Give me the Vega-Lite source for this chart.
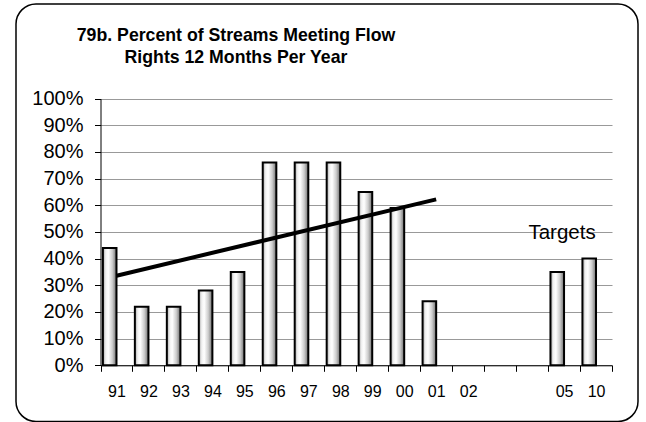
{
  "$schema": "https://vega.github.io/schema/vega-lite/v6.json",
  "width": 622,
  "height": 417.5,
  "autosize": {"type": "none"},
  "padding": {"left": 16, "top": 4, "right": 8, "bottom": 0},
  "background": "white",
  "config": {
    "view": {"stroke": "black", "strokeWidth": 1.5, "cornerRadius": 20},
    "font": "Liberation Sans"
  },
  "title": {
    "text": ["79b. Percent of Streams Meeting  Flow", "Rights 12 Months Per Year"],
    "font": "Liberation Sans",
    "fontSize": 17.7,
    "fontWeight": "bold",
    "color": "black",
    "anchor": "middle",
    "frame": "group",
    "dx": -91,
    "offset": -81,
    "baseline": "bottom",
    "lineHeight": 22
  },
  "datasets": {
    "bars": [
      {"year": "91", "value": 44},
      {"year": "92", "value": 22},
      {"year": "93", "value": 22},
      {"year": "94", "value": 28},
      {"year": "95", "value": 35},
      {"year": "96", "value": 76},
      {"year": "97", "value": 76},
      {"year": "98", "value": 76},
      {"year": "99", "value": 65},
      {"year": "00", "value": 59},
      {"year": "01", "value": 24},
      {"year": "05", "value": 35},
      {"year": "10", "value": 40}
    ],
    "trend": [
      {"year": "91", "trend": 33.6},
      {"year": "01", "trend": 62.2}
    ],
    "notes": [
      {"label": "Targets"}
    ]
  },
  "layer": [
    {
      "data": {"name": "bars"},
      "mark": {
        "type": "bar",
        "fill": {
          "gradient": "linear",
          "x1": 0, "x2": 1, "y1": 0, "y2": 0,
          "stops": [
            {"offset": 0, "color": "#a8a8a8"},
            {"offset": 0.22, "color": "#f2f2f2"},
            {"offset": 0.4, "color": "#ffffff"},
            {"offset": 0.7, "color": "#cccccc"},
            {"offset": 1, "color": "#6e6e6e"}
          ]
        },
        "stroke": "black",
        "strokeWidth": 2,
        "width": {"band": 0.85}
      },
      "encoding": {
        "x": {
          "field": "year",
          "type": "nominal",
          "sort": null,
          "title": null,
          "scale": {
            "domain": ["91", "92", "93", "94", "95", "96", "97", "98", "99", "00", "01", "02", "03", "04", "05", "10"],
            "range": [84.5, 596],
            "paddingInner": 0,
            "paddingOuter": 0
          },
          "axis": {
            "orient": "bottom",
            "offset": -56.2,
            "tickBand": "extent",
            "labelAngle": 0,
            "tickSize": 6,
            "labelFontSize": 16,
            "labelPadding": 12.5,
            "labelColor": "black",
            "domainColor": "black",
            "tickColor": "black",
            "grid": false,
            "labelExpr": "datum.value == '03' || datum.value == '04' ? '' : datum.value"
          }
        },
        "xOffset": {
          "datum": "a",
          "scale": {"domain": ["a", "b"], "paddingInner": 0, "paddingOuter": 0}
        },
        "y": {
          "field": "value",
          "type": "quantitative",
          "title": null,
          "scale": {"domain": [0, 100], "range": [361.3, 94.6], "nice": false},
          "axis": {
            "offset": -84.5,
            "values": [0, 10, 20, 30, 40, 50, 60, 70, 80, 90, 100],
            "grid": true,
            "gridColor": "#999999",
            "gridWidth": 1,
            "domainColor": "black",
            "tickColor": "black",
            "tickSize": 6,
            "labelFontSize": 20,
            "labelColor": "black",
            "labelPadding": 11.5,
            "labelExpr": "datum.value + '%'"
          }
        }
      }
    },
    {
      "data": {"name": "trend"},
      "mark": {"type": "line", "color": "black", "strokeWidth": 4},
      "encoding": {
        "x": {"field": "year", "type": "nominal", "sort": null, "title": null},
        "y": {"field": "trend", "type": "quantitative", "title": null}
      }
    },
    {
      "data": {"name": "notes"},
      "mark": {"type": "text", "fontSize": 20.5, "color": "black", "align": "center", "baseline": "alphabetic", "dx": -2},
      "encoding": {
        "x": {"datum": "05", "title": null},
        "y": {"datum": 47.4, "title": null},
        "text": {"field": "label"}
      }
    }
  ]
}
